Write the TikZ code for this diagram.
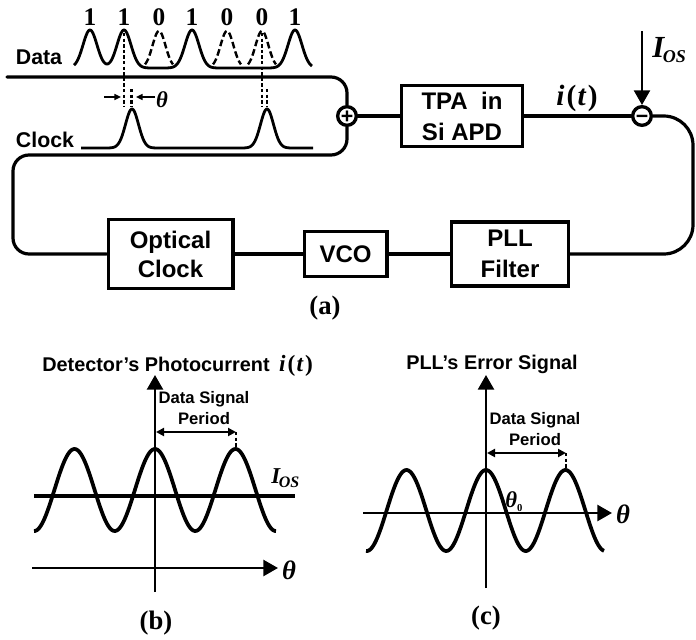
\documentclass[tikz,border=0pt]{standalone}
\usepackage{fontspec}
\setmainfont{Liberation Serif}
\setsansfont{Liberation Sans}
\usetikzlibrary{arrows.meta,calc}
\newcommand{\pxfont}[1]{\fontsize{#1}{#1}\selectfont}
\newcommand{\itt}{\textit{i}\kern1.5pt(\kern1pt\textit{t}\kern1pt)}
\newcommand{\midsign}[1]{\raisebox{-5.5pt}[3pt][3pt]{#1}}
\tikzset{
  wire/.style={line width=2.4pt,line cap=round},
  sigdash/.style={line width=1.6pt,dash pattern=on 2.6pt off 1.6pt},
  puldash/.style={line width=1.8pt,dash pattern=on 5pt off 2.4pt},
  blockbox/.style={draw,line width=2.5pt,fill=white,font=\sffamily\bfseries\pxfont{18},align=center,inner sep=0pt,text depth=0pt},
  sumnode/.style={circle,draw,line width=2.5pt,fill=white,minimum size=14pt,inner sep=0pt,font=\sffamily\bfseries\pxfont{16}},
  sanslab/.style={font=\sffamily\bfseries\pxfont{16},inner sep=0pt},
  smalllab/.style={font=\sffamily\bfseries\pxfont{12.5},inner sep=0pt,align=center},
  titlelab/.style={font=\sffamily\bfseries\pxfont{14.9},inner sep=0pt},
  serlab/.style={font=\rmfamily\bfseries\pxfont{20},inner sep=0pt},
  itlab/.style={font=\rmfamily\bfseries\pxfont{22},inner sep=0pt},
  thetalab/.style={font=\rmfamily\bfseries\itshape\pxfont{20},inner sep=0pt},
  bigtip/.style={-{Triangle[length=11pt,width=12pt]}},
  axisline/.style={line width=1.9pt,bigtip},
  dbl/.style={{Triangle[length=6pt,width=6pt]}-{Triangle[length=6pt,width=6pt]},line width=1.5pt},
  smalltip/.style={-{Triangle[length=5pt,width=4.5pt]},line width=1.1pt},
  curve/.style={line width=2.8pt,samples=220,smooth},
  pulse/.style={line width=2.1pt,samples=300,smooth},
  declare function={gs(\d)=exp(-\d*\d/2);}
}
\begin{document}
\begin{tikzpicture}[x=0.75pt,y=-0.75pt]
\useasboundingbox (0,0) rectangle (696,639);
% blocks
\node[blockbox,minimum width=91pt,minimum height=46pt] (tpa) at (462,116) {TPA\ \ in\\[5pt]Si APD};
\node[blockbox,minimum width=93.5pt,minimum height=52pt] (optical) at (170.5,254) {Optical\\[4pt]Clock};
\node[blockbox,minimum width=62pt,minimum height=34pt] (vco) at (345.5,254) {VCO};
\node[blockbox,minimum width=88pt,minimum height=48pt] (pll) at (510,254) {PLL\\[5pt]Filter};
\node[sumnode] (plus) at (347,116) {\midsign{+}};
\node[sumnode] (minus) at (642,116) {\midsign{−}};
\coordinate (datastart) at (7,77);
\coordinate (ostop) at (642,31);
% wires
\draw[wire,rounded corners=12pt] (datastart) -- (plus.north |- datastart) -- (plus.north);
\draw[wire,rounded corners=12pt] (plus.south) -- ($(plus.south |- 0,155)$) -- (13,155) -- (13,254) -- (optical.west);
\draw[wire] (plus.east) -- (tpa.west);
\draw[wire] (tpa.east) -- (minus.west);
\draw[wire,rounded corners=22pt] (minus.east) -- (693,116) -- (693,254) -- (pll.east);
\draw[wire] (pll.west) -- (vco.east);
\draw[wire] (vco.west) -- (optical.east);
\draw[line width=1.8pt,bigtip] (ostop) -- (minus.north);
% data pulses
\draw[pulse,domain=74:312] plot (\x,{68-38*(gs((\x-90)/7)+gs((\x-124)/7)+gs((\x-192)/7)+gs((\x-295)/7))});
\foreach \c in {159,227,262}{
  \draw[puldash,domain=-14:14,samples=40] plot ({\c+\x},{68-37*gs(\x/6.5)});
}
% clock pulse
\draw[pulse,domain=81:313] plot (\x,{148-39*(gs((\x-132)/6.5)+gs((\x-267)/6.5))});
% sync dashes
\draw[sigdash] (124,33) -- (124,107);
\draw[sigdash] (131.5,89) -- (131.5,107);
\draw[sigdash] (262,33) -- (262,107);
\draw[sigdash] (267,89) -- (267,107);
\coordinate (tl) at (104,97); \coordinate (tlend) at (121,97);
\coordinate (tr) at (155,97); \coordinate (trend) at (136,97);
\draw[smalltip] (tl) -- (tlend);
\draw[smalltip] (tr) -- (trend);
\node[thetalab,font=\rmfamily\bfseries\itshape\pxfont{17}] (thetaa) at (162,100) {θ};
% labels
\foreach \n/\x/\t in {b1/90/1,b2/124/1,b3/159/0,b4/192/1,b5/227/0,b6/262/0,b7/295/1}
  \node[serlab,font=\rmfamily\bfseries\pxfont{19}] (\n) at (\x,17) {\t};
\node[sanslab] (datalab) at (39,57) {Data};
\node[sanslab] (clocklab) at (45,140) {Clock};
\node[itlab] (it) at (577,98) {\itt};
\node[inner sep=0pt,anchor=west,font=\rmfamily\bfseries\itshape\pxfont{23}] (ios) at (652,50) {I\kern-1pt\raisebox{-4pt}{\pxfont{13.5}OS}};
\node[serlab] (capa) at (325,308) {(a)};
% plot b
\node[titlelab,anchor=west] (titleb) at (42,364) {Detector’s Photocurrent};
\node[itlab,font=\rmfamily\bfseries\pxfont{17.5}] (itb) at (296,366) {\itt};
\coordinate (byb) at (155,592); \coordinate (byt) at (155,375);
\coordinate (bxl) at (32,568); \coordinate (bxr) at (278,568);
\coordinate (bol) at (34,496); \coordinate (bor) at (295,496);
\draw[axisline] (byb) -- (byt);
\draw[axisline] (bxl) -- (bxr);
\draw[wire,line width=2.8pt,line cap=butt] (bol) -- (bor);
\draw[curve,domain=34:276] plot (\x,{490-41*cos(4.472*(\x-155))});
\node[thetalab] (thetab) at (289,570) {θ};
\node[font=\rmfamily\bfseries\itshape\pxfont{17},inner sep=0pt,anchor=west] (iosb) at (271,478) {I\kern-1pt\raisebox{-3pt}{\pxfont{12}OS}};
\node[smalllab] (dsb) at (204,408) {Data Signal\\[3pt]Period};
\coordinate (bal) at (156,432); \coordinate (bar) at (236,432); \coordinate (bpk) at (236,447);
\draw[dbl] (bal) -- (bar);
\draw[sigdash] (bar) -- (bpk);
\node[serlab] (capb) at (156,623) {(b)};
% plot c
\node[titlelab] (titlec) at (492,364) {PLL’s Error Signal};
\coordinate (cyb) at (486,588); \coordinate (cyt) at (486,375);
\coordinate (cxl) at (363,513); \coordinate (cxr) at (612,513);
\draw[axisline] (cyb) -- (cyt);
\draw[axisline] (cxl) -- (cxr);
\draw[curve,domain=366:604] plot (\x,{510.5-40.5*cos(4.528*(\x-486))});
\node[thetalab] (thetac) at (623,514) {θ};
\node[inner sep=0pt,font=\rmfamily\bfseries\itshape\pxfont{17}] (thetaz) at (514,502) {θ\raisebox{-3pt}{\upshape\pxfont{8}0}};
\node[smalllab] (dsc) at (535,429) {Data Signal\\[3pt]Period};
\coordinate (cal) at (487,453); \coordinate (car) at (566,453); \coordinate (cpk) at (566,468);
\draw[dbl] (cal) -- (car);
\draw[sigdash] (car) -- (cpk);
\node[serlab] (capc) at (486,618) {(c)};
\end{tikzpicture}
\end{document}
